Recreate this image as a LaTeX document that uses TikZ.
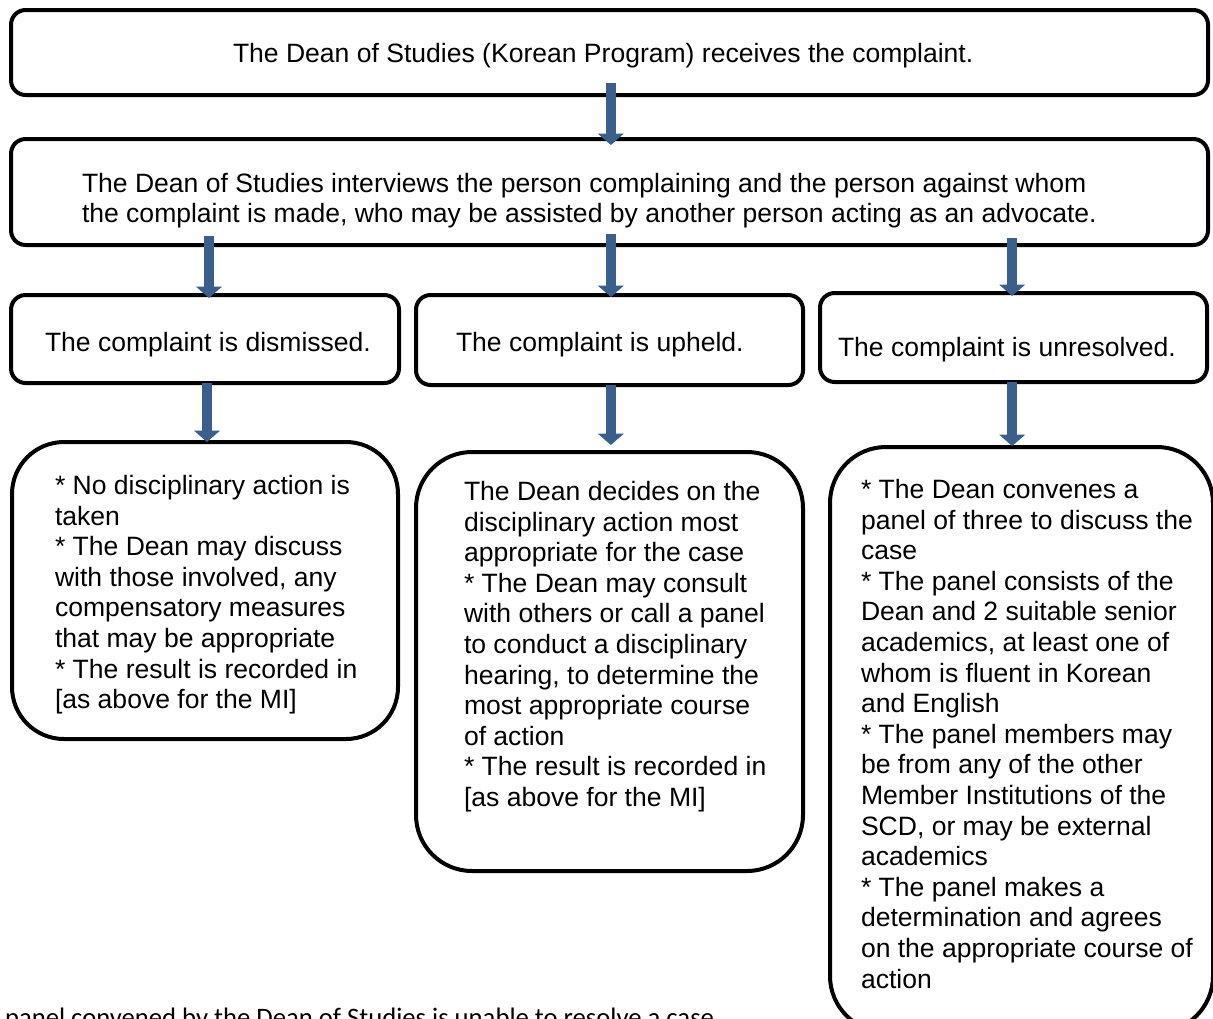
\documentclass[tikz,border=0pt]{standalone}
\usepackage{fontspec}
\setmainfont{Liberation Sans}
\newfontfamily\calibrifont{Carlito}
\usetikzlibrary{arrows.meta,fit}
\definecolor{arrowblue}{RGB}{58,95,141}
\newcommand{\tlines}[2]{\parbox[t]{#1}{\raggedright #2}}
\begin{document}
\begin{tikzpicture}[x=0.75pt,y=-0.75pt,
  box/.style={draw=black, line width=3pt, rounded corners=11pt, inner sep=0pt, outer sep=0pt},
  bigbox/.style={box, rounded corners=39pt},
  txt/.style={inner sep=0pt, outer sep=0pt, anchor=base west, font=\fontsize{19.9pt}{22.95pt}\selectfont},
  barrow/.style={draw=arrowblue, line width=7.5pt, line cap=butt,
    -{Triangle[width=19pt,length=8.5pt]}, arrowblue}]
\clip (0,0) rectangle (1213,1018);
\fill[white] (0,0) rectangle (1213,1018);
% boxes
\node[box, fit={(11,10) (1208,95)}] (b1) {};
\node[box, fit={(11,139) (1208,245)}] (b2) {};
\node[box, fit={(11,295) (399,383)}] (b3a) {};
\node[box, fit={(416,295) (803,385)}] (b3b) {};
\node[box, fit={(820,293) (1207,382)}] (b3c) {};
\node[bigbox, fit={(12,442) (398,739)}] (b4a) {};
\node[bigbox, rounded corners=42pt, fit={(416,452) (803,871)}] (b4b) {};
\node[bigbox, rounded corners=42pt, fit={(830,447) (1213,1032)}] (b4c) {};
% texts
\node[txt] (t1) at (233,62) {The Dean of Studies (Korean Program) receives the complaint.};
\node[txt] (t2) at (82,192) {\tlines{800pt}{The Dean of Studies interviews the person complaining and the person against whom\\the complaint is made, who may be assisted by another person acting as an advocate.}};
\node[txt] (t3a) at (45,351.5) {The complaint is dismissed.};
\node[txt] (t3b) at (456,351.5) {The complaint is upheld.};
\node[txt] (t3c) at (838,356.5) {The complaint is unresolved.};
\node[txt] (t4a) at (55,494.5) {\tlines{280pt}{* No disciplinary action is\\taken\\{}* The Dean may discuss\\with those involved, any\\compensatory measures\\that may be appropriate\\{}* The result is recorded in\\{[as} above for the MI]}};
\node[txt] (t4b) at (464,500.5) {\tlines{280pt}{The Dean decides on the\\disciplinary action most\\appropriate for the case\\{}* The Dean may consult\\with others or call a panel\\to conduct a disciplinary\\hearing, to determine the\\most appropriate course\\of action\\{}* The result is recorded in\\{[as} above for the MI]}};
\node[txt] (t4c) at (861,498.5) {\tlines{280pt}{* The Dean convenes a\\panel of three to discuss the\\case\\{}* The panel consists of the\\Dean and 2 suitable senior\\academics, at least one of\\whom is fluent in Korean\\and English\\{}* The panel members may\\be from any of the other\\Member Institutions of the\\SCD, or may be external\\academics\\{}* The panel makes a\\determination and agrees\\on the appropriate course of\\action}};
\node[txt, font=\calibrifont\fontsize{20pt}{24pt}\selectfont] (t5) at (5,1026) {panel convened by the Dean of Studies is unable to resolve a case};
% arrows
\draw[barrow, shorten <=-9pt, shorten >=-4.5pt] ([xshift=1pt]b1.south) -- ([xshift=1pt]b2.north);
\draw[barrow, shorten <=-6.75pt, shorten >=-2.25pt] (b2.south -| b3a.north) ++(3pt,0) -- ([xshift=3pt]b3a.north);
\draw[barrow, shorten <=-8.25pt, shorten >=-1.5pt] ([xshift=1pt]b2.south -| b3b.north) -- ([xshift=1pt]b3b.north);
\draw[barrow, shorten <=-5.25pt, shorten >=-2.25pt] ([xshift=-1pt]b2.south -| b3c.north) -- ([xshift=-1pt]b3c.north);
\draw[barrow, shorten <=0pt, shorten >=0pt] ([xshift=1.5pt]b3a.south) -- ([xshift=1.5pt]b3a.south |- b4a.north);
\draw[barrow, shorten <=0pt, shorten >=5.25pt] ([xshift=1pt]b3b.south) -- ([xshift=1pt]b3b.south |- b4b.north);
\draw[barrow, shorten <=0pt, shorten >=0.75pt] ([xshift=-1pt]b3c.south) -- ([xshift=-1pt]b3c.south |- b4c.north);
\end{tikzpicture}
\end{document}
